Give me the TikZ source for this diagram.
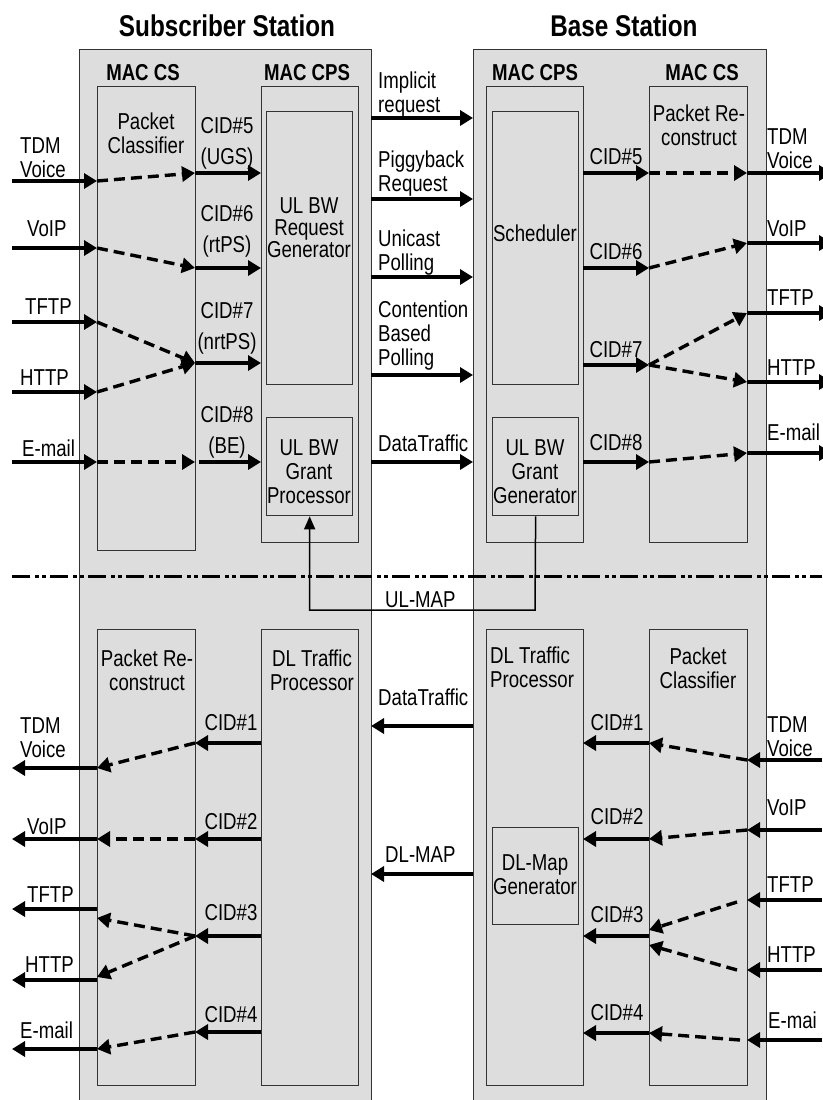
\documentclass[tikz,border=0pt]{standalone}
\usepackage{fontspec}
\setmainfont{Liberation Sans}[FakeStretch=0.81]
\usetikzlibrary{arrows.meta}
\definecolor{boxgray}{HTML}{DDDDDD}
\definecolor{edgegray}{HTML}{333333}
\begin{document}
\begin{tikzpicture}[x=1pt,y=-1pt,
  boxst/.style={draw=edgegray, fill=boxgray, line width=1.3pt, inner sep=0pt, anchor=north west},
  txt/.style={font=\fontsize{23}{24}\selectfont, inner sep=0pt, align=center},
  txtl/.style={txt, align=left, anchor=west},
  cidl/.style={font=\fontsize{23}{31}\selectfont, inner sep=0pt, align=center},
  ttl/.style={font=\fontsize{30}{32}\selectfont\bfseries, inner sep=0pt},
  mac/.style={font=\fontsize{23}{24}\selectfont\bfseries, inner sep=0pt},
  sarr/.style={line width=3.4pt, -{Triangle[length=13pt,width=15pt]}},
  darr/.style={sarr, dash pattern=on 11pt off 6pt},
  thinarr/.style={line width=1.5pt, -{Triangle[length=13pt,width=11pt]}},
  dashdotline/.style={line width=3pt, dash pattern=on 18pt off 5pt on 4pt off 3pt on 4pt off 4pt}
  ]
\fill[white] (0,0) rectangle (822,1100);
\useasboundingbox (0,0) rectangle (822,1100);

% outer station boxes
\node[boxst, minimum width=292, minimum height=1060] (ssOut) at (79,49) {};
\node[boxst, minimum width=293, minimum height=1060] (bsOut) at (473,49) {};

% inner boxes - upper
\node[boxst, minimum width=98, minimum height=464] (ssPC) at (97,86) {};
\node[boxst, minimum width=97, minimum height=456] (ssCPS) at (261,86) {};
\node[boxst, minimum width=86, minimum height=273] (ssReq) at (266,111) {};
\node[boxst, minimum width=86, minimum height=98] (ssGP) at (266,417) {};
\node[boxst, minimum width=97, minimum height=456] (bsCPS) at (486,86) {};
\node[boxst, minimum width=86, minimum height=273] (bsSch) at (492,111) {};
\node[boxst, minimum width=86, minimum height=98] (bsGG) at (492,417) {};
\node[boxst, minimum width=98, minimum height=456] (bsPR) at (649,86) {};
% inner boxes - lower
\node[boxst, minimum width=98, minimum height=456] (ssPR) at (97,629) {};
\node[boxst, minimum width=97, minimum height=456] (ssDL) at (261,629) {};
\node[boxst, minimum width=97, minimum height=456] (bsDL) at (486,629) {};
\node[boxst, minimum width=86, minimum height=97] (bsMapG) at (492,827) {};
\node[boxst, minimum width=98, minimum height=456] (bsPC) at (649,629) {};

% titles
\node[ttl] (tSS) at (227,26) {Subscriber Station};
\node[ttl] (tBS) at (624,26) {Base Station};
\node[mac] (ssMacCS) at (143,73) {MAC CS};
\node[mac] (ssMacCPS) at (307,73) {MAC CPS};
\node[mac] (bsMacCPS) at (535,73) {MAC CPS};
\node[mac] (bsMacCS) at (702,73) {MAC CS};

% box texts
\node[txt] (xPC1) at (146,133) {Packet\\Classifier};
\node[txt, font=\fontsize{23}{22}\selectfont] (xReq) at (309,228) {UL BW\\Request\\Generator};
\node[txt] (xGP) at (309,472) {UL BW\\Grant\\Processor};
\node[txt] (xSch) at (535,233) {Scheduler};
\node[txt] (xGG) at (535,472) {UL BW\\Grant\\Generator};
\node[txt] (xPR1) at (699,125) {Packet Re-\\construct};
\node[txt] (xPR2) at (147,670) {Packet Re-\\construct};
\node[txt] (xDL1) at (312,670) {DL Traffic\\Processor};
\node[txtl] (xDL2) at (490,667) {DL Traffic\\Processor};
\node[txt] (xMapG) at (535,875) {DL-Map\\Generator};
\node[txt] (xPC2) at (698,668) {Packet\\Classifier};

% coordinates for connector ends
\foreach \n/\x/\y in {
 a1s/12/181, a1e/97/181, d1e/195/173, s1e/261/173,
 a2s/12/248, a2e/97/248, d2e/195/268, s2e/261/268,
 a3s/12/322, a3e/97/322, d3e/195/363, s3e/261/363,
 a4s/12/392, a4e/97/392,
 a5s/12/462, a5e/97/462, d5e/195/462, s4s/199/462, s4e/261/462,
 m1s/371/118, m1e/473/118, m2s/371/199, m2e/473/199, m3s/371/277, m3e/473/277,
 m4s/371/375, m4e/473/375, m5s/371/462, m5e/473/462,
 b5s/583/173, b5e/649/173, b5d/747/173, b5o/832/173,
 b6s/583/268, b6e/649/268, b6d/747/243, b6o/832/243,
 b7s/583/365, b7e/649/365, b7d/747/313, b7o/832/313, b7h/747/382, b7p/832/382,
 b8s/583/462, b8e/649/462, b8d/747/453, b8o/832/453,
 ulm/535/610, dl1/12/576, dl2/822/576,
 c1s/261/743, c1e/195/743, c1d/97/768, c1o/12/768,
 c2s/261/839, c2e/195/839, c2d/97/839, c2o/12/839,
 c3s/261/936, c3e/195/936, c3d/97/918, c3h/97/977, c3t/97/909, c3to/12/909, c3hh/97/980, c3ho/12/980,
 c4s/261/1032, c4e/195/1032, c4d/97/1049, c4o/12/1049,
 n1s/473/726, n1e/371/726, n2s/473/874, n2e/371/874,
 e1s/649/743, e1e/583/743, e1d/747/760, e1o/822/760,
 e2s/649/839, e2e/583/839, e2d/747/830, e2o/822/830,
 e3s/649/936, e3e/583/936, e3a/649/930, e3b/649/945, e3t/737/902, e3h/737/970,
 e3tt/747/900, e3to/822/900, e3hh/747/970, e3ho/822/970,
 e4s/649/1033, e4e/583/1033, e4d/740/1040, e4dd/747/1040, e4o/822/1040}
 {\coordinate (\n) at (\x,\y);}

% ---------- upper SS ----------
\draw[sarr] (a1s) -- (a1e);
\draw[darr] (a1e) -- (d1e);
\draw[sarr] (d1e) -- (s1e);
\draw[sarr] (a2s) -- (a2e);
\draw[darr] (a2e) -- (d2e);
\draw[sarr] (d2e) -- (s2e);
\draw[sarr] (a3s) -- (a3e);
\draw[darr] (a3e) -- (d3e);
\draw[sarr] (a4s) -- (a4e);
\draw[darr] (a4e) -- (d3e);
\draw[sarr] (d3e) -- (s3e);
\draw[sarr] (a5s) -- (a5e);
\draw[darr] (a5e) -- (d5e);
\draw[sarr] (s4s) -- (s4e);

\node[txtl] (lTDM1) at (20,158) {TDM\\Voice};
\node[txtl] (lVoIP1) at (27,229) {VoIP};
\node[txtl] (lTFTP1) at (25,307) {TFTP};
\node[txtl] (lHTTP1) at (20,378) {HTTP};
\node[txtl] (lMail1) at (22,448) {E-mail};
\node[cidl] (cid5a) at (227,143) {CID\#5\\(UGS)};
\node[cidl] (cid6a) at (227,231) {CID\#6\\(rtPS)};
\node[cidl] (cid7a) at (227,328) {CID\#7\\(nrtPS)};
\node[cidl] (cid8a) at (227,432) {CID\#8\\(BE)};

% ---------- middle upper ----------
\draw[sarr] (m1s) -- (m1e);
\draw[sarr] (m2s) -- (m2e);
\draw[sarr] (m3s) -- (m3e);
\draw[sarr] (m4s) -- (m4e);
\draw[sarr] (m5s) -- (m5e);
\node[txtl] (lImp) at (378,95) {Implicit\\request};
\node[txtl] (lPig) at (378,174) {Piggyback\\Request};
\node[txtl] (lUni) at (378,253) {Unicast\\Polling};
\node[txtl] (lCon) at (378,336) {Contention\\Based\\Polling};
\node[txtl] (lDT1) at (378,443) {DataTraffic};

% ---------- upper BS ----------
\draw[sarr] (b5s) -- (b5e);
\draw[darr] (b5e) -- (b5d);
\draw[sarr] (b5d) -- (b5o);
\draw[sarr] (b6s) -- (b6e);
\draw[darr] (b6e) -- (b6d);
\draw[sarr] (b6d) -- (b6o);
\draw[sarr] (b7s) -- (b7e);
\draw[darr] (b7e) -- (b7d);
\draw[darr] (b7e) -- (b7h);
\draw[sarr] (b7d) -- (b7o);
\draw[sarr] (b7h) -- (b7p);
\draw[sarr] (b8s) -- (b8e);
\draw[darr] (b8e) -- (b8d);
\draw[sarr] (b8d) -- (b8o);
\node[txt] (cid5b) at (616,157) {CID\#5};
\node[txt] (cid6b) at (616,252) {CID\#6};
\node[txt] (cid7b) at (616,350) {CID\#7};
\node[txt] (cid8b) at (616,443) {CID\#8};
\node[txtl] (lTDM2) at (767,149) {TDM\\Voice};
\node[txtl] (lVoIP2) at (767,229) {VoIP};
\node[txtl] (lTFTP2) at (767,298) {TFTP};
\node[txtl] (lHTTP2) at (767,368) {HTTP};
\node[txtl] (lMail2) at (767,432) {E-mail};

% ---------- UL-MAP ----------
\draw[thinarr] (bsGG.south) -- (ulm) -| (ssGP.south);
\node[txtl] (lULMAP) at (385,600) {UL-MAP};

% ---------- divider ----------
\draw[dashdotline] (dl1) -- (dl2);

% ---------- lower SS ----------
\draw[sarr] (c1s) -- (c1e);
\draw[darr] (c1e) -- (c1d);
\draw[sarr] (c1d) -- (c1o);
\draw[sarr] (c2s) -- (c2e);
\draw[darr] (c2e) -- (c2d);
\draw[sarr] (c2d) -- (c2o);
\draw[sarr] (c3s) -- (c3e);
\draw[darr] (c3e) -- (c3d);
\draw[darr] (c3e) -- (c3h);
\draw[sarr] (c3t) -- (c3to);
\draw[sarr] (c3hh) -- (c3ho);
\draw[sarr] (c4s) -- (c4e);
\draw[darr] (c4e) -- (c4d);
\draw[sarr] (c4d) -- (c4o);
\node[txt] (cid1a) at (231,723) {CID\#1};
\node[txt] (cid2a) at (231,822) {CID\#2};
\node[txt] (cid3a) at (231,913) {CID\#3};
\node[txt] (cid4a) at (231,1015) {CID\#4};
\node[txtl] (lTDM3) at (20,738) {TDM\\Voice};
\node[txtl] (lVoIP3) at (27,827) {VoIP};
\node[txtl] (lTFTP3) at (27,895) {TFTP};
\node[txtl] (lHTTP3) at (25,965) {HTTP};
\node[txtl] (lMail3) at (20,1030) {E-mail};

% ---------- middle lower ----------
\draw[sarr] (n1s) -- (n1e);
\draw[sarr] (n2s) -- (n2e);
\node[txtl] (lDT2) at (378,697) {DataTraffic};
\node[txtl] (lDLMAP) at (385,855) {DL-MAP};

% ---------- lower BS ----------
\draw[sarr] (e1s) -- (e1e);
\draw[darr] (e1d) -- (e1s);
\draw[sarr] (e1o) -- (e1d);
\draw[sarr] (e2s) -- (e2e);
\draw[darr] (e2d) -- (e2s);
\draw[sarr] (e2o) -- (e2d);
\draw[sarr] (e3s) -- (e3e);
\draw[darr] (e3t) -- (e3a);
\draw[darr] (e3h) -- (e3b);
\draw[sarr] (e3to) -- (e3tt);
\draw[sarr] (e3ho) -- (e3hh);
\draw[sarr] (e4s) -- (e4e);
\draw[darr] (e4d) -- (e4s);
\draw[sarr] (e4o) -- (e4dd);
\node[txt] (cid1b) at (617,723) {CID\#1};
\node[txt] (cid2b) at (617,817) {CID\#2};
\node[txt] (cid3b) at (617,915) {CID\#3};
\node[txt] (cid4b) at (617,1013) {CID\#4};
\node[txtl] (lTDM4) at (767,737) {TDM\\Voice};
\node[txtl] (lVoIP4) at (767,808) {VoIP};
\node[txtl] (lTFTP4) at (767,885) {TFTP};
\node[txtl] (lHTTP4) at (767,955) {HTTP};
\node[txtl] (lMail4) at (768,1020) {E-mai};
\end{tikzpicture}
\end{document}
